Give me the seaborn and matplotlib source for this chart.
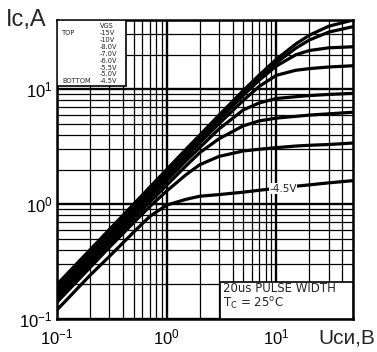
import matplotlib
matplotlib.use("Agg")
import matplotlib.pyplot as plt
import seaborn as sns
import pandas as pd
from matplotlib.patches import Rectangle
from matplotlib.ticker import LogLocator, NullFormatter

# ---- data ----
vds = [0.1, 0.2, 0.3, 0.5, 0.7, 1, 1.5, 2, 3, 5, 7, 10, 15, 20, 30, 50]
vgs_labels = ["-15V", "-10V", "-8.0V", "-7.0V", "-6.0V", "-5.5V", "-5.0V", "-4.5V"]
id_m15 = [0.20, 0.40, 0.60, 1.0, 1.4, 2.0, 3.0, 3.98, 5.94, 9.75, 13.3, 18.2, 24.7, 29.5, 35.3, 40.0]
id_m10 = [0.19, 0.38, 0.57, 0.95, 1.33, 1.9, 2.85, 3.78, 5.64, 9.21, 12.5, 17.0, 22.7, 26.8, 31.4, 35.0]
id_m8 = [0.18, 0.36, 0.54, 0.9, 1.26, 1.8, 2.7, 3.6, 5.38, 8.84, 12.0, 15.9, 19.9, 21.7, 22.9, 23.4]
id_m7 = [0.17, 0.34, 0.51, 0.85, 1.19, 1.7, 2.55, 3.4, 5.0, 8.0, 10.6, 13.2, 14.6, 15.1, 15.6, 16.0]
id_m6 = [0.16, 0.32, 0.48, 0.8, 1.12, 1.6, 2.38, 3.1, 4.5, 6.6, 7.6, 8.3, 8.6, 8.8, 9.0, 9.2]
id_m55 = [0.15, 0.30, 0.45, 0.75, 1.04, 1.46, 2.15, 2.8, 3.7, 4.8, 5.3, 5.6, 5.8, 5.95, 6.1, 6.3]
id_m5 = [0.14, 0.28, 0.42, 0.69, 0.95, 1.3, 1.8, 2.2, 2.6, 2.9, 3.0, 3.1, 3.2, 3.25, 3.3, 3.4]
id_m45 = [0.12, 0.24, 0.35, 0.57, 0.78, 0.98, 1.1, 1.17, 1.21, 1.27, 1.32, 1.37, 1.43, 1.47, 1.53, 1.6]
series = [id_m15, id_m10, id_m8, id_m7, id_m6, id_m55, id_m5, id_m45]

x_ticks = [0.1, 1, 10]
y_ticks = [0.1, 1, 10]

rows = []
for lab, ys in zip(vgs_labels, series):
    for x, y in zip(vds, ys):
        rows.append({"Vds": x, "Id": y, "VGS": lab})
df = pd.DataFrame(rows)

sns.set_style("white")
plt.rcParams["font.family"] = ["Liberation Sans", "DejaVu Sans"]
plt.rcParams["mathtext.default"] = "regular"

fig = plt.figure(figsize=(3.77, 3.52), dpi=100)
ax = fig.add_axes([57 / 377, 1 - 319 / 352, 296 / 377, 299 / 352])
ax.set_xscale("log")
ax.set_yscale("log")

sns.lineplot(data=df, x="Vds", y="Id", hue="VGS", palette={k: "black" for k in vgs_labels},
             estimator=None, sort=False, legend=False, linewidth=2.3, ax=ax, zorder=3)

ax.set_xlim(0.1, 50)
ax.set_ylim(0.1, 40)
ax.set_xticks(x_ticks)
ax.set_yticks(y_ticks)
ax.xaxis.set_minor_locator(LogLocator(base=10, subs=range(2, 10)))
ax.yaxis.set_minor_locator(LogLocator(base=10, subs=range(2, 10)))
ax.xaxis.set_minor_formatter(NullFormatter())
ax.yaxis.set_minor_formatter(NullFormatter())
ax.grid(which="major", color="black", linewidth=1.7)
ax.grid(which="minor", color="black", linewidth=0.9)
ax.set_axisbelow(True)
ax.tick_params(which="both", length=0, labelsize=12, colors="black")
ax.tick_params(axis="y", pad=3)
ax.tick_params(axis="x", pad=6)
for s in ax.spines.values():
    s.set_linewidth(1.8)
    s.set_color("black")
ax.set_xlabel("")
ax.set_ylabel("")

# legend box
ax.add_patch(Rectangle((0, 0.779), 0.233, 0.221, transform=ax.transAxes,
                       facecolor="white", edgecolor="black", linewidth=1.2, zorder=5))
fx = lambda px: (px - 57) / 296
fy = lambda py: (319 - py) / 299
ax.text(fx(100), fy(26), "VGS", transform=ax.transAxes, fontsize=4.8, va="center",
        family="DejaVu Sans", zorder=6)
ax.text(fx(62), fy(33), "TOP", transform=ax.transAxes, fontsize=4.8, va="center",
        family="DejaVu Sans", zorder=6)
ax.text(fx(62), fy(81), "BOTTOM", transform=ax.transAxes, fontsize=4.8, va="center",
        family="DejaVu Sans", zorder=6)
for i, lab in enumerate(vgs_labels):
    ax.text(fx(100), fy(33 + i * 6.9), lab, transform=ax.transAxes, fontsize=4.8,
            va="center", family="DejaVu Sans", zorder=6)

# conditions box
ax.add_patch(Rectangle((fx(220), 0), 1 - fx(220), fy(282), transform=ax.transAxes,
                       facecolor="white", edgecolor="black", linewidth=1.2, zorder=5))
ax.text(fx(223), fy(289), "20us PULSE WIDTH", transform=ax.transAxes, fontsize=8.5,
        va="center", family="DejaVu Sans", zorder=6)
ax.text(fx(223), fy(304), "T$_C$ = 25$^o$C", transform=ax.transAxes, fontsize=8.5,
        va="center", family="DejaVu Sans", zorder=6)

# curve label
ax.text(11.5, 1.36, "-4.5V", fontsize=7.5, ha="center", va="center", family="DejaVu Sans",
        zorder=6, bbox=dict(facecolor="white", edgecolor="none", pad=0.5))

fig.text(6 / 377, 1 - 20 / 352, "Ic,A", fontsize=17, va="center", ha="left")
fig.text(375 / 377, 1 - 338 / 352, "Uси,B", fontsize=15, va="center", ha="right")

fig.savefig("out.png", dpi=100)
